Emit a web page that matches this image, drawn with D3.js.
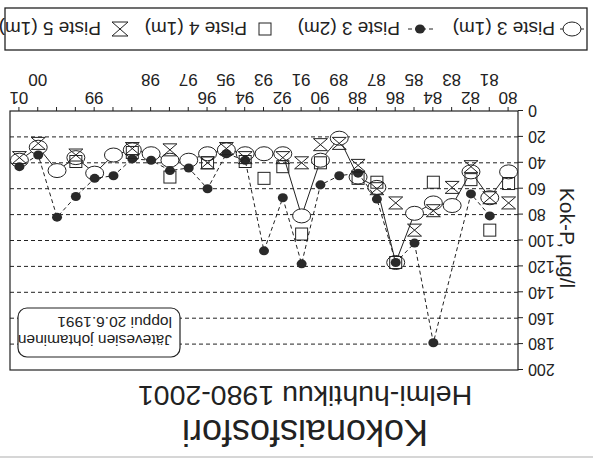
<!DOCTYPE html>
<html>
<head>
<meta charset="utf-8">
<script src="https://cdn.jsdelivr.net/npm/d3@7"></script>
<style>
  html, body { margin: 0; padding: 0; background: #fff; }
  svg { display: block; }
  text { font-family: "Liberation Sans", Arial, sans-serif; fill: #222; }
</style>
</head>
<body>
<svg id="chart" width="593" height="463"></svg>
<script>
// Sampling occasions (February–April), one category per sample; blank = same year again
const categories = ["80","81","82","83","84","85","86","87","88","89","90","91","92","93","94","95","96","97","","98","","","99","","","00","01"];
// Total phosphorus, µg/l
const piste3_1m = [47,67,47,73,71,79,117,59,51,21,38,81,33,33,33,30,33,38,38,33,30,34,48,36,46,28,38];
const piste3_2m = [null,81,64,null,179,102,117,68,48,50,57,118,67,108,38,33,60,44,46,38,37,50,52,66,82,34,43];
const piste4_1m = [56,92,53,null,55,null,117,55,52,null,40,95,43,52,39,null,40,null,51,null,32,null,null,39,null,null,null];
const piste5_1m = [71,67,43,59,77,92,71,60,42,25,26,40,36,null,36,29,40,null,30,null,29,null,null,34,null,25,36];
const yTicks = [0,20,40,60,80,100,120,140,160,180,200];
const seriesNames = ["Piste 3 (1m)","Piste 3 (2m)","Piste 4 (1m)","Piste 5 (1m)"];

const svg = d3.select("#chart");
const ink = "#222";
// the sheet is drawn upside down
const g = svg.append("g").attr("transform", "rotate(180 296.5 231.5)");

// faint edge of the sheet
g.append("line").attr("x1", 0).attr("x2", 593).attr("y1", 6).attr("y2", 6)
  .attr("stroke", "#c8c8c8").attr("stroke-width", 1.5);

const plot = { left: 75, right: 583, top: 93, bottom: 352 };
const idx = d3.range(categories.length);
const x = d3.scalePoint().domain(idx).range([plot.left, plot.right]).padding(0.5);
const y = d3.scaleLinear().domain([0, 200]).range([plot.bottom, plot.top]);

// dashed grid
g.append("g").selectAll("line").data(yTicks.filter(v => v > 0 && v < 200)).join("line")
  .attr("x1", plot.left).attr("x2", plot.right)
  .attr("y1", d => y(d)).attr("y2", d => y(d))
  .attr("stroke", ink).attr("stroke-width", 1).attr("stroke-dasharray", "4,3");

// frame
g.append("rect").attr("x", plot.left).attr("y", plot.top)
  .attr("width", plot.right - plot.left).attr("height", plot.bottom - plot.top)
  .attr("fill", "none").attr("stroke", ink).attr("stroke-width", 1.2);

// y axis
const yAxis = g.append("g").attr("transform", `translate(${plot.left},0)`)
  .call(d3.axisLeft(y).tickValues(yTicks).tickSize(5).tickPadding(5));
yAxis.select(".domain").remove();
yAxis.selectAll("line").attr("stroke", ink);
yAxis.selectAll("text").attr("font-size", 16).attr("fill", ink)
  .attr("font-family", "Liberation Sans, Arial, sans-serif");

// x axis with staggered labels
const xAxis = g.append("g").attr("transform", `translate(0,${plot.bottom})`)
  .call(d3.axisBottom(x).tickSize(4).tickFormat(i => categories[i]));
xAxis.select(".domain").remove();
xAxis.selectAll("line").attr("stroke", ink);
xAxis.selectAll("text").attr("font-size", 17).attr("fill", ink)
  .attr("font-family", "Liberation Sans, Arial, sans-serif")
  .attr("y", i => i % 2 === 0 ? 7 : 25);

// annotation
const note = g.append("g");
note.append("rect").attr("x", 413).attr("y", 106).attr("width", 162).attr("height", 49)
  .attr("rx", 9).attr("fill", "#fff").attr("stroke", ink).attr("stroke-width", 1.2);
note.append("text").attr("x", 421).attr("y", 128).attr("font-size", 15.5).text("Jätevesien johtaminen");
note.append("text").attr("x", 421).attr("y", 146).attr("font-size", 15.5).text("loppui 20.6.1991");

// symbol helpers
const hourglass = (w, h) => `M${-w},${-h}L${w},${-h}L${-w},${h}L${w},${h}Z`;

// Piste 3 (1m): solid line with open ellipses
const pts1 = idx.filter(i => piste3_1m[i] != null);
g.append("path").datum(pts1)
  .attr("d", d3.line().x(i => x(i)).y(i => y(piste3_1m[i])))
  .attr("fill", "none").attr("stroke", ink).attr("stroke-width", 1);
g.append("g").selectAll("ellipse").data(pts1).join("ellipse")
  .attr("cx", i => x(i)).attr("cy", i => y(piste3_1m[i]))
  .attr("rx", 9).attr("ry", 7).attr("fill", "#fff").attr("stroke", ink).attr("stroke-width", 1);

// Piste 3 (2m): dashed line with filled dots
const pts2 = idx.filter(i => piste3_2m[i] != null);
g.append("path").datum(pts2)
  .attr("d", d3.line().x(i => x(i)).y(i => y(piste3_2m[i])))
  .attr("fill", "none").attr("stroke", ink).attr("stroke-width", 1).attr("stroke-dasharray", "4,3");
g.append("g").selectAll("ellipse").data(pts2).join("ellipse")
  .attr("cx", i => x(i)).attr("cy", i => y(piste3_2m[i]))
  .attr("rx", 5).attr("ry", 4.5).attr("fill", "#2a2a2a");

// Piste 4 (1m): open squares
g.append("g").selectAll("rect").data(idx.filter(i => piste4_1m[i] != null)).join("rect")
  .attr("x", i => x(i) - 6).attr("y", i => y(piste4_1m[i]) - 6)
  .attr("width", 12).attr("height", 12)
  .attr("fill", "none").attr("stroke", ink).attr("stroke-width", 1);

// Piste 5 (1m): hourglasses
g.append("g").selectAll("path").data(idx.filter(i => piste5_1m[i] != null)).join("path")
  .attr("transform", i => `translate(${x(i)},${y(piste5_1m[i])})`)
  .attr("d", hourglass(7, 6))
  .attr("fill", "none").attr("stroke", ink).attr("stroke-width", 1);

// y axis title
g.append("text").attr("transform", "translate(33,225) rotate(-90)")
  .attr("text-anchor", "middle").attr("font-size", 21).text("Kok-P, µg/l");

// titles
g.append("text").attr("x", 288).attr("y", 43).attr("text-anchor", "middle")
  .attr("font-size", 36).text("Kokonaisfosfori");
g.append("text").attr("x", 288).attr("y", 77).attr("text-anchor", "middle")
  .attr("font-size", 28.5).text("Helmi-huhtikuu 1980-2001");

// legend
const leg = g.append("g");
leg.append("rect").attr("x", 6).attr("y", 413).attr("width", 582).attr("height", 42)
  .attr("fill", "none").attr("stroke", ink).attr("stroke-width", 1.3);
const ly = 434;
leg.append("line").attr("x1", 9).attr("x2", 33).attr("y1", ly).attr("y2", ly).attr("stroke", ink);
leg.append("ellipse").attr("cx", 21).attr("cy", ly).attr("rx", 9).attr("ry", 7)
  .attr("fill", "#fff").attr("stroke", ink);
leg.append("line").attr("x1", 160).attr("x2", 186).attr("y1", ly).attr("y2", ly)
  .attr("stroke", ink).attr("stroke-dasharray", "4,3");
leg.append("ellipse").attr("cx", 173).attr("cy", ly).attr("rx", 5).attr("ry", 4.5).attr("fill", "#2a2a2a");
leg.append("rect").attr("x", 322).attr("y", ly - 6).attr("width", 12).attr("height", 12)
  .attr("fill", "none").attr("stroke", ink);
leg.append("path").attr("transform", `translate(473,${ly})`).attr("d", hourglass(8, 7))
  .attr("fill", "none").attr("stroke", ink);
const legX = [38, 193, 346, 492];
leg.selectAll("text.lg").data(seriesNames).join("text").attr("class", "lg")
  .attr("x", (d, i) => legX[i]).attr("y", ly + 7).attr("font-size", 19).text(d => d);
</script>
</body>
</html>
